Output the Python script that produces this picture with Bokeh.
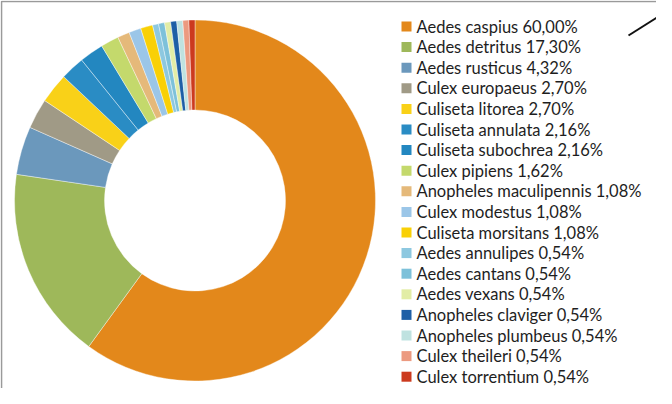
import math
from bokeh.plotting import figure
from bokeh.models import ColumnDataSource, Range1d
from bokeh.core.properties import value
from bokeh.embed import file_html
from bokeh.resources import INLINE

species = [
    "Aedes caspius", "Aedes detritus", "Aedes rusticus", "Culex europaeus",
    "Culiseta litorea", "Culiseta annulata", "Culiseta subochrea", "Culex pipiens",
    "Anopheles maculipennis", "Culex modestus", "Culiseta morsitans", "Aedes annulipes",
    "Aedes cantans", "Aedes vexans", "Anopheles claviger", "Anopheles plumbeus",
    "Culex theileri", "Culex torrentium",
]
percents = [60.00, 17.30, 4.32, 2.70, 2.70, 2.16, 2.16, 1.62, 1.08, 1.08, 1.08,
            0.54, 0.54, 0.54, 0.54, 0.54, 0.54, 0.54]
colors = [
    "#E3881B", "#9EB85A", "#6B98BC", "#A09A86", "#F9D118", "#2A8CC4", "#2387C0",
    "#C4D96C", "#E5B97A", "#9BC6E8", "#F9D006", "#8DC8E0", "#7DC1DA", "#E2EDA6",
    "#1E5FA6", "#BFE2E0", "#EC9A80", "#CC3A1E",
]

total = sum(percents)
starts, ends = [], []
cum = 0.0
for v in percents:
    starts.append(math.pi / 2 - 2 * math.pi * cum / total)
    cum += v
    ends.append(math.pi / 2 - 2 * math.pi * cum / total)

labels = [f"{s} {v:.2f}%".replace(".", ",") for s, v in zip(species, percents)]

# layout (image pixel coords, y measured downward -> data y = -img_y)
cx, cy = 202.5, 208.0
r_out, r_in = 180.5, 90.5
leg_top, leg_pitch = 34.0, 20.6
leg_sq_x, leg_text_x = 414.0, 424.0

n = len(species)
src = ColumnDataSource(dict(
    start=starts, end=ends, color=colors, label=labels,
    ly=[-(leg_top + i * leg_pitch) for i in range(n)],
    sx=[leg_sq_x] * n, tx=[leg_text_x] * n,
))

W, H = 656, 388
p = figure(width=W, height=H, output_backend="svg", toolbar_location=None,
           x_range=Range1d(8, 8 + W), y_range=Range1d(-(8 + H), -8),
           x_axis_type=None, y_axis_type=None, min_border=0,
           outline_line_color=None, background_fill_color="white")
p.grid.visible = False

# frame (partial, as in the cropped original)
p.line(x=[9, 9, 680], y=[-410, -9, -9], line_color="#9A9A9A", line_width=1.6)
# stray annotation stroke top-right
p.line(x=[636, 674], y=[-43, -19], line_color="#111111", line_width=2)

p.annular_wedge(x=cx, y=-cy, inner_radius=r_in, outer_radius=r_out,
                start_angle="start", end_angle="end", direction="clock",
                fill_color="color", line_color="white", line_width=0.4,
                source=src)

p.scatter(x="sx", y="ly", marker="square", size=10, fill_color="color",
          line_color=None, source=src)
p.text(x="tx", y="ly", text="label", text_font=value("Lato"),
       text_font_size="16.5px", text_baseline="middle", text_align="left",
       text_color="#1E1E1E", source=src)

open("out.html", "w").write(file_html(p, INLINE))
